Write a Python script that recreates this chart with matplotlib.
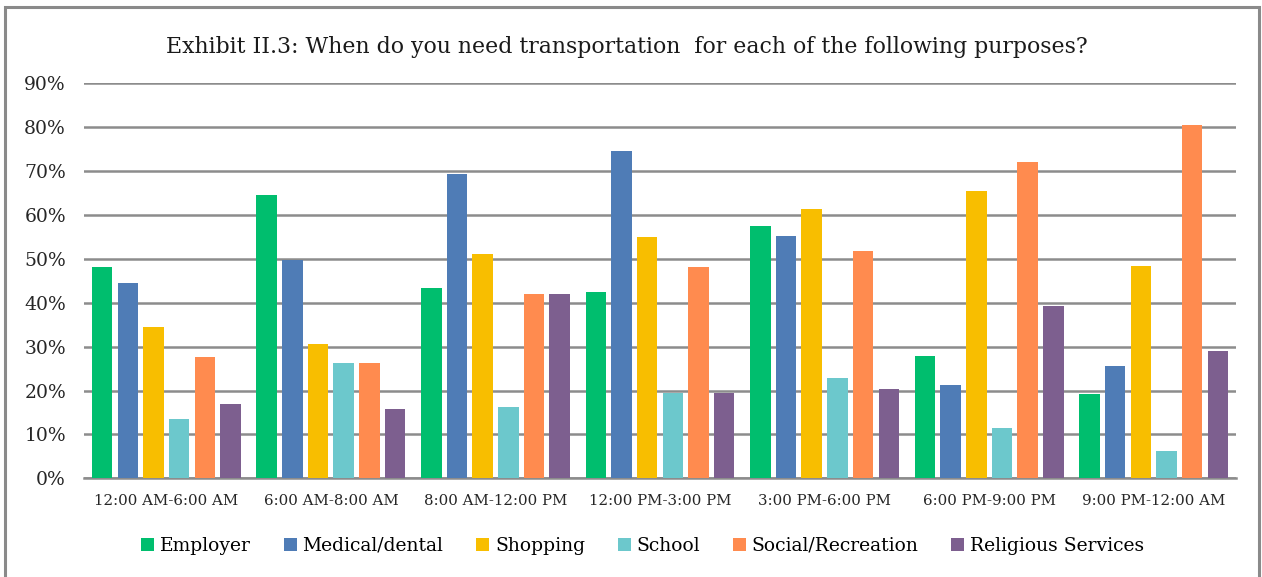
import numpy as np
import matplotlib.pyplot as plt
from matplotlib.patches import Rectangle

# time windows and share of respondents needing transport (fraction)
periods = ["12:00 AM-6:00 AM", "6:00 AM-8:00 AM", "8:00 AM-12:00 PM",
           "12:00 PM-3:00 PM", "3:00 PM-6:00 PM", "6:00 PM-9:00 PM",
           "9:00 PM-12:00 AM"]

employer = [0.481, 0.645, 0.434, 0.424, 0.576, 0.278, 0.192]
medical = [0.446, 0.497, 0.693, 0.746, 0.552, 0.212, 0.256]
shopping = [0.344, 0.307, 0.510, 0.549, 0.613, 0.655, 0.483]
school = [0.135, 0.263, 0.162, 0.194, 0.228, 0.114, 0.062]
social = [0.276, 0.263, 0.421, 0.481, 0.517, 0.721, 0.806]
religious = [0.170, 0.159, 0.421, 0.194, 0.204, 0.393, 0.289]

series = [("Employer", employer, "#00be6e"),
          ("Medical/dental", medical, "#4f7cb6"),
          ("Shopping", shopping, "#f8be00"),
          ("School", school, "#6cc8cc"),
          ("Social/Recreation", social, "#ff8b4f"),
          ("Religious Services", religious, "#7d5f8f")]

plt.rcParams['font.family'] = ['DejaVu Serif']

fig = plt.figure(figsize=(12.62, 5.77), dpi=100)
ax = fig.add_axes([0.0666, 0.171, 0.9128, 0.6846])

x = np.arange(len(periods))
slot = 0.156
for i, (name, vals, col) in enumerate(series):
    ax.bar(x + (i - 2.5) * slot, vals, width=slot * 0.8, color=col,
           label=name, zorder=3)

ax.set_xlim(-0.5, len(periods) - 0.5)
ax.set_ylim(0, 0.9)
ax.set_yticks(np.arange(0, 0.91, 0.1))
ax.set_yticklabels([f"{int(round(t * 100))}%" for t in np.arange(0, 0.91, 0.1)],
                   fontsize=13.5, color="#262626")
ax.set_xticks(x)
ax.set_xticklabels(periods, fontsize=10.8, color="#262626")
ax.tick_params(axis="y", length=0, pad=13)
ax.tick_params(axis="x", length=0, pad=11)
ax.yaxis.grid(True, color="#8c8c8c", linewidth=1.8, zorder=0)
for s in ["top", "right", "left"]:
    ax.spines[s].set_visible(False)
ax.spines["bottom"].set_color("#8c8c8c")
ax.spines["bottom"].set_linewidth(1.8)

fig.text(627 / 1262, 1 - 47 / 577,
         "Exhibit II.3: When do you need transportation  for each of the following purposes?",
         fontsize=15.8, color="#1a1a1a", ha="center", va="center")

ax.legend(loc="upper center", bbox_to_anchor=(0.485, -0.105), ncol=6,
          frameon=False, fontsize=13.5, handlelength=0.7, handleheight=0.7,
          handletextpad=0.3, columnspacing=1.75)

# outer chart frame
fig.patches.append(Rectangle((5 / 1262, -0.05), 1254 / 1262, 1.05 - 7 / 577,
                             transform=fig.transFigure, fill=False,
                             edgecolor="#8a8a8a", linewidth=2.2))

fig.savefig("out.png", dpi=100)
